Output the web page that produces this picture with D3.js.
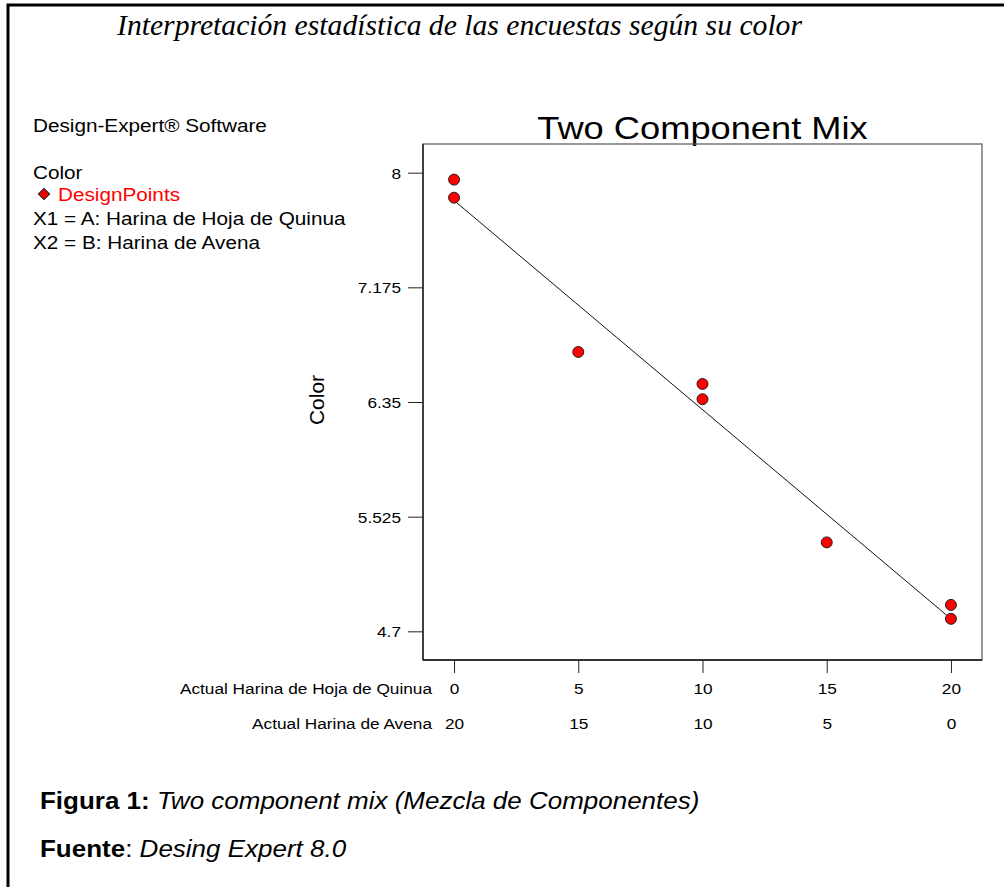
<!DOCTYPE html>
<html>
<head>
<meta charset="utf-8">
<script src="https://cdn.jsdelivr.net/npm/d3@7"></script>
<style>
  body { margin: 0; background: #fff; }
  svg text { font-family: "Liberation Sans", Arial, sans-serif; fill: #000; }
</style>
</head>
<body>
<svg id="chart" width="1004" height="887"></svg>
<script>
// values
const quinua = [0, 0, 5, 10, 10, 15, 20, 20];
const colorScore = [7.95, 7.82, 6.71, 6.48, 6.37, 5.34, 4.89, 4.79];
const fitQuinua = [0, 20];
const fitColor = [7.80, 4.79];
const quinuaTicks = [0, 5, 10, 15, 20];
const avenaTicks = [20, 15, 10, 5, 0];
const colorTicks = [4.7, 5.525, 6.35, 7.175, 8];
const legendLines = ["X1 = A: Harina de Hoja de Quinua", "X2 = B: Harina de Avena"];

const SX = 1.15; // the original picture is a bit wider than tall
const svg = d3.select("#chart");

svg.append("rect").attr("width", 1004).attr("height", 887).attr("fill", "#fff");

// outer frame (left + top)
svg.append("path")
  .attr("d", "M8,887V5H1004")
  .attr("fill", "none")
  .attr("stroke", "#000")
  .attr("stroke-width", 3);

function label(parent, x, y, str, size, anchor, sx) {
  return parent.append("text")
    .attr("transform", `translate(${x},${y}) scale(${sx || SX},1)`)
    .attr("text-anchor", anchor || "start")
    .style("font-size", size + "px")
    .text(str);
}

// heading
svg.append("text")
  .attr("x", 117).attr("y", 35)
  .attr("textLength", 685)
  .attr("lengthAdjust", "spacingAndGlyphs")
  .style("font-family", "'Liberation Serif', 'Times New Roman', serif")
  .style("font-style", "italic")
  .style("font-size", "29px")
  .text("Interpretación estadística de las encuestas según su color");

// legend block
label(svg, 33, 132, "Design-Expert® Software", 18.5, "start", 1.12);
label(svg, 33, 179, "Color", 18.5, "start", 1.12);
svg.append("rect")
  .attr("x", -4).attr("y", -4).attr("width", 8).attr("height", 8)
  .attr("transform", "translate(44,194) rotate(45)")
  .attr("fill", "#e00")
  .attr("stroke", "#222")
  .attr("stroke-width", 1);
label(svg, 58, 201, "DesignPoints", 18.5, "start", 1.12).style("fill", "#f00");
legendLines.forEach((t, i) => label(svg, 33, 225 + i * 24, t, 18.5, "start", 1.12));

// plot
const x = d3.scaleLinear().domain([-1.25, 21.25]).range([423, 982]);
const y = d3.scaleLinear().domain([4.49375, 8.20625]).range([660, 144]);

label(svg, (x.range()[0] + x.range()[1]) / 2, 139, "Two Component Mix", 31, "middle", 1.17);

svg.append("rect")
  .attr("x", x.range()[0]).attr("y", y.range()[1])
  .attr("width", x.range()[1] - x.range()[0])
  .attr("height", y.range()[0] - y.range()[1])
  .attr("fill", "none")
  .attr("stroke", "#555")
  .attr("stroke-width", 1.2);
svg.append("line")
  .attr("x1", x.range()[0]).attr("x2", x.range()[1])
  .attr("y1", y.range()[0]).attr("y2", y.range()[0])
  .attr("stroke", "#333").attr("stroke-width", 2);
svg.append("line")
  .attr("x1", x.range()[0]).attr("x2", x.range()[0])
  .attr("y1", y.range()[1]).attr("y2", y.range()[0])
  .attr("stroke", "#222").attr("stroke-width", 1.5);

// y axis
const yAxis = svg.append("g")
  .attr("transform", `translate(${x.range()[0]},0)`)
  .call(d3.axisLeft(y).tickValues(colorTicks).tickSize(15).tickFormat(d => String(d)));
yAxis.select(".domain").remove();
yAxis.selectAll("line").attr("stroke", "#222");
yAxis.selectAll("text")
  .attr("x", -22 / SX)
  .attr("dy", "0.36em")
  .attr("transform", `scale(${SX},1)`)
  .style("font-size", "15px")
  .style("font-family", "'Liberation Sans', Arial, sans-serif");

svg.append("text")
  .attr("transform", "translate(324,400) rotate(-90)")
  .attr("text-anchor", "middle")
  .style("font-size", "21px")
  .text("Color");

// x axis, two rows of labels
const xAxis = svg.append("g")
  .attr("transform", `translate(0,${y.range()[0]})`)
  .call(d3.axisBottom(x).tickValues(quinuaTicks).tickSize(13));
xAxis.select(".domain").remove();
xAxis.selectAll("line").attr("stroke", "#222");
xAxis.selectAll("text")
  .attr("y", 34).attr("dy", 0)
  .attr("transform", `scale(${SX},1)`)
  .style("font-size", "15px")
  .style("font-family", "'Liberation Sans', Arial, sans-serif");

const xAxis2 = svg.append("g")
  .attr("transform", `translate(0,${y.range()[0]})`)
  .call(d3.axisBottom(x).tickValues(quinuaTicks).tickSize(0).tickFormat((d, i) => avenaTicks[i]));
xAxis2.select(".domain").remove();
xAxis2.selectAll("line").remove();
xAxis2.selectAll("text")
  .attr("y", 69).attr("dy", 0)
  .attr("transform", `scale(${SX},1)`)
  .style("font-size", "15px")
  .style("font-family", "'Liberation Sans', Arial, sans-serif");

label(svg, 432, 694, "Actual Harina de Hoja de Quinua", 15, "end");
label(svg, 432, 729, "Actual Harina de Avena", 15, "end");

// fitted line
const line = d3.line().x(d => x(d[0])).y(d => y(d[1]));
svg.append("path")
  .datum(d3.zip(fitQuinua, fitColor))
  .attr("d", line)
  .attr("fill", "none")
  .attr("stroke", "#111")
  .attr("stroke-width", 1);

// design points
svg.append("g")
  .selectAll("circle")
  .data(d3.zip(quinua, colorScore))
  .join("circle")
  .attr("cx", d => x(d[0]))
  .attr("cy", d => y(d[1]))
  .attr("r", 5.5)
  .attr("fill", "#f00")
  .attr("stroke", "#222")
  .attr("stroke-width", 1);

// captions
const cap1 = svg.append("text")
  .attr("transform", "translate(40,809) scale(1.13,1)")
  .style("font-size", "23px");
cap1.append("tspan").style("font-weight", "bold").text("Figura 1: ");
cap1.append("tspan").style("font-style", "italic").text("Two component mix (Mezcla de Componentes)");

const cap2 = svg.append("text")
  .attr("transform", "translate(40,857) scale(1.13,1)")
  .style("font-size", "23px");
cap2.append("tspan").style("font-weight", "bold").text("Fuente");
cap2.append("tspan").text(": ");
cap2.append("tspan").style("font-style", "italic").text("Desing Expert 8.0");
</script>
</body>
</html>
